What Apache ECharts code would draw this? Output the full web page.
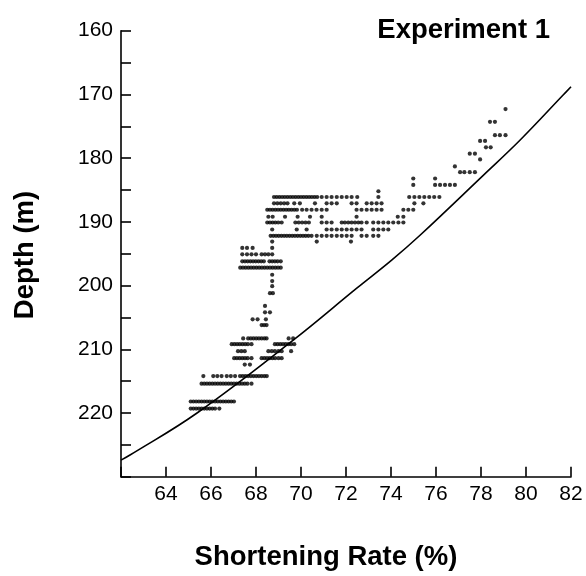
<!DOCTYPE html>
<html>
<head>
<meta charset="utf-8">
<script src="https://cdn.jsdelivr.net/npm/echarts@6/dist/echarts.min.js"></script>
<style>
html,body{margin:0;padding:0;background:#fff;}
#c{width:586px;height:576px;}
</style>
</head>
<body>
<div id="c"></div>
<script>
// Depth rows (m) of the measured points and the shortening rates (%) in each row
const depthRows = [172.3, 174.3, 176.4, 177.3, 178.3, 179.3, 180.2, 181.3, 182.2, 183.2, 184.2, 185.2,
  186.1, 187.1, 188.1, 189.2, 190.1, 191.2, 192.2, 193.1, 194.1, 195.1, 196.2, 197.2,
  198.3, 199.3, 200.1, 201.2, 203.2, 204.2, 205.3, 206.2, 208.3, 209.2, 210.3, 211.4,
  212.4, 214.2, 215.4, 218.2, 219.3];
const rateRows = [
  [79.09],
  [78.4, 78.62],
  [78.62, 78.84, 79.09],
  [77.96, 78.18],
  [78.22, 78.43],
  [77.5, 77.73],
  [77.96],
  [76.84],
  [77.07, 77.26, 77.5, 77.73],
  [74.99, 75.96],
  [74.99, 75.96, 76.18, 76.4, 76.62, 76.84],
  [73.44],
  [68.8, 68.92, 69.04, 69.16, 69.28, 69.4, 69.52, 69.64, 69.76, 69.88, 70.0, 70.12, 70.24, 70.36, 70.48, 70.6, 70.72, 70.92, 71.14, 71.36, 71.59, 71.81, 72.03, 72.25, 72.5, 73.44, 74.81, 75.04, 75.26, 75.48, 75.7, 75.92, 76.15],
  [68.8, 68.95, 69.1, 69.25, 69.4, 69.7, 69.95, 70.62, 71.14, 71.36, 71.59, 72.25, 72.47, 72.92, 73.14, 73.36, 73.58, 75.04, 75.44],
  [68.5, 68.62, 68.74, 68.86, 68.98, 69.1, 69.22, 69.34, 69.46, 69.58, 69.7, 69.82, 70.05, 70.25, 70.47, 70.69, 70.92, 71.14, 72.47, 72.69, 72.92, 73.14, 73.36, 73.58, 74.55, 74.77, 74.99],
  [68.55, 68.74, 69.29, 69.85, 70.4, 70.92, 72.47, 74.3, 74.55],
  [68.5, 68.62, 68.74, 68.86, 68.99, 69.14, 69.75, 69.9, 70.05, 70.2, 70.35, 70.92, 71.14, 71.36, 71.81, 71.95, 72.1, 72.25, 72.4, 72.55, 72.69, 72.92, 73.21, 73.44, 73.66, 73.88, 74.1, 74.33, 74.55],
  [68.72, 69.81, 70.25, 71.14, 71.36, 71.59, 71.81, 72.03, 72.25, 72.47, 72.69, 73.21, 73.44, 73.66, 73.88],
  [68.65, 68.77, 68.89, 69.01, 69.13, 69.25, 69.37, 69.49, 69.61, 69.73, 69.85, 69.97, 70.09, 70.21, 70.33, 70.47, 70.7, 70.92, 71.14, 71.36, 71.59, 71.81, 72.03, 72.25, 72.69, 72.92, 73.21, 73.44],
  [68.72, 70.7, 72.22],
  [67.39, 67.6, 67.85, 68.72],
  [67.39, 67.6, 67.8, 68.0, 68.25, 68.4, 68.55, 68.72],
  [67.39, 67.51, 67.63, 67.75, 67.87, 67.99, 68.11, 68.23, 68.35, 68.6, 68.72, 68.84, 68.96, 69.1],
  [67.3, 67.42, 67.54, 67.66, 67.78, 67.9, 68.02, 68.14, 68.26, 68.38, 68.5, 68.62, 68.74, 68.86, 68.98, 69.1],
  [68.72],
  [68.72],
  [68.72],
  [68.62, 68.75],
  [68.4],
  [68.4, 68.62],
  [67.85, 68.07, 68.44],
  [68.25, 68.36, 68.47],
  [67.43, 67.65, 67.77, 67.89, 68.01, 68.13, 68.25, 68.37, 68.47, 69.45, 69.65],
  [66.92, 67.04, 67.16, 67.28, 67.4, 67.52, 67.64, 67.8, 68.84, 68.96, 69.08, 69.2, 69.32, 69.44, 69.56, 69.7],
  [67.2, 67.35, 67.5, 68.55, 68.7, 68.84, 69.0, 69.14, 69.56],
  [67.03, 67.15, 67.27, 67.39, 67.51, 67.63, 67.8, 68.25, 68.37, 68.49, 68.61, 68.73, 68.85, 69.0, 69.14],
  [67.5, 67.73],
  [65.66, 66.1, 66.28, 66.47, 66.7, 66.88, 67.07, 67.29, 67.41, 67.53, 67.65, 67.77, 67.89, 68.01, 68.13, 68.25, 68.37, 68.48],
  [65.58, 65.7, 65.82, 65.94, 66.06, 66.18, 66.3, 66.42, 66.54, 66.66, 66.78, 66.9, 67.02, 67.14, 67.26, 67.38, 67.5, 67.62, 67.8],
  [65.1, 65.22, 65.34, 65.46, 65.58, 65.7, 65.82, 65.94, 66.06, 66.18, 66.3, 66.42, 66.54, 66.66, 66.78, 66.9, 67.02],
  [65.1, 65.22, 65.34, 65.46, 65.58, 65.7, 65.82, 65.94, 66.06, 66.18, 66.37]
];
// Reference curve
const curveRate  = [62.0, 62.4, 65.38, 69.64, 72.48, 74.03, 75.29, 78.1, 79.73, 81.65, 82.0];
const curveDepth = [227.4, 226.6, 220.0, 208.6, 200.4, 196.0, 192.1, 182.7, 177.2, 170.1, 168.8];
// Axis ticks
const xTicks = {min: 62, max: 82, step: 2};
const yTicks = {min: 160, max: 230, step: 5, labelStep: 10, lastLabel: 220};

const points = [];
depthRows.forEach((d, i) => rateRows[i].forEach(r => points.push([r, d])));
const curve = curveRate.map((r, i) => [r, curveDepth[i]]);

const FONT = '"Liberation Sans", Arial, Helvetica, sans-serif';
const chart = echarts.init(document.getElementById('c'), null, {renderer: 'canvas'});
chart.setOption({
  backgroundColor: '#fff',
  animation: false,
  grid: {left: 121, right: 15, top: 30.7, bottom: 99.3, containLabel: false, outerBoundsMode: 'none'},
  xAxis: {
    type: 'value', min: xTicks.min, max: xTicks.max, interval: xTicks.step,
    axisLine: {show: true, lineStyle: {color: '#000', width: 1.6}},
    axisTick: {show: true, inside: true, length: 10, lineStyle: {color: '#000', width: 1.6}},
    axisLabel: {color: '#000', fontSize: 21, fontFamily: FONT, margin: 7,
      formatter: v => (v === xTicks.min ? '' : String(v))},
    splitLine: {show: false}
  },
  yAxis: {
    type: 'value', inverse: true, min: yTicks.min, max: yTicks.max, interval: yTicks.step,
    axisLine: {show: true, lineStyle: {color: '#000', width: 1.6}},
    axisTick: {show: true, inside: true, length: 10, lineStyle: {color: '#000', width: 1.6}},
    axisLabel: {color: '#000', fontSize: 21, fontFamily: FONT, margin: 8,
      formatter: v => ((v % yTicks.labelStep === 0 && v <= yTicks.lastLabel) ? String(v) : '')},
    splitLine: {show: false}
  },
  series: [
    {type: 'scatter', data: points, symbol: 'circle', symbolSize: 4.2,
      itemStyle: {color: '#000'}, silent: true},
    {type: 'line', data: curve, smooth: 0.4, showSymbol: false, symbol: 'none',
      lineStyle: {color: '#000', width: 1.6}, silent: true}
  ],
  graphic: [
    {type: 'text', x: 550, y: 30, style: {text: 'Experiment 1', font: 'bold 27.5px ' + FONT,
      fill: '#000', textAlign: 'right', textVerticalAlign: 'middle'}},
    {type: 'text', x: 25, y: 255, rotation: Math.PI / 2, style: {text: 'Depth (m)', font: 'bold 27.5px ' + FONT,
      fill: '#000', textAlign: 'center', textVerticalAlign: 'middle'}},
    {type: 'text', x: 326, y: 557, style: {text: 'Shortening Rate (%)', font: 'bold 27.5px ' + FONT,
      fill: '#000', textAlign: 'center', textVerticalAlign: 'middle'}}
  ]
});
</script>
</body>
</html>
